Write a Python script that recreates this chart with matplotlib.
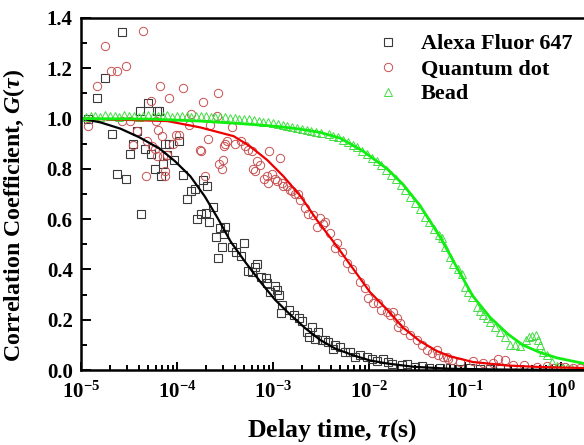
import numpy as np
import matplotlib.pyplot as plt
from matplotlib.ticker import MultipleLocator, LogLocator, NullFormatter

plt.rcParams['font.family'] = ['Liberation Serif', 'DejaVu Serif']
plt.rcParams['font.weight'] = 'bold'
plt.rcParams['mathtext.fontset'] = 'custom'
plt.rcParams['mathtext.rm'] = 'Liberation Serif:bold'
plt.rcParams['mathtext.it'] = 'Liberation Serif:italic:bold'
plt.rcParams['mathtext.bf'] = 'Liberation Serif:bold'

# ---- data (log10 of delay time, correlation coefficient) ----
alexa_logt = [-4.93, -4.83, -4.75, -4.68, -4.63, -4.57, -4.53, -4.49, -4.46, -4.42,
              -4.39, -4.37, -4.33, -4.30, -4.27, -4.23, -4.21, -4.19, -4.17, -4.15,
              -4.13, -4.10, -4.08, -4.03, -3.98, -3.94, -3.90, -3.85, -3.81, -3.79,
              -3.75, -3.73, -3.70, -3.69, -3.67, -3.63, -3.59, -3.57, -3.55, -3.53,
              -3.51, -3.50, -3.43, -3.39, -3.33, -3.30, -3.26, -3.22, -3.19, -3.17,
              -3.13, -3.07, -3.06, -3.03, -2.98, -2.96, -2.94, -2.92, -2.91, -2.83,
              -2.78, -2.73, -2.70, -2.65, -2.63, -2.59, -2.56, -2.53, -2.49, -2.46,
              -2.43, -2.38, -2.35, -2.30, -2.25, -2.20, -2.15, -2.09, -2.02, -1.97,
              -1.92, -1.85, -1.80, -1.76, -1.66, -1.60, -1.52, -1.45, -1.37, -1.26,
              -1.16, -1.05, -0.95, -0.84, -0.74, -0.64]
alexa_g = [1.00, 1.08, 1.16, 0.94, 0.78, 1.345, 0.76, 0.86, 0.90, 0.95,
           1.03, 0.62, 0.88, 1.06, 0.86, 0.80, 1.03, 1.03, 0.77, 0.82,
           0.90, 0.855, 0.90, 0.835, 0.91, 0.775, 0.68, 0.71, 0.72, 0.60,
           0.62, 0.755, 0.625, 0.73, 0.59, 0.65, 0.53, 0.445, 0.565, 0.49,
           0.54, 0.57, 0.49, 0.47, 0.455, 0.505, 0.395, 0.39, 0.41, 0.42,
           0.37, 0.365, 0.345, 0.31, 0.335, 0.32, 0.30, 0.225, 0.26, 0.24,
           0.22, 0.205, 0.195, 0.15, 0.13, 0.17, 0.125, 0.15, 0.12, 0.12,
           0.11, 0.085, 0.10, 0.09, 0.07, 0.07, 0.05, 0.06, 0.05, 0.045,
           0.035, 0.045, 0.03, 0.025, 0.02, 0.025, 0.012, 0.015, 0.01, 0.008,
           0.01, 0.005, 0.008, 0.004, 0.006, 0.003]

qdot_logt = [-4.93, -4.83, -4.75, -4.69, -4.63, -4.57, -4.53, -4.49, -4.46, -4.42,
             -4.35, -4.32, -4.31, -4.27, -4.26, -4.23, -4.22, -4.21, -4.20, -4.18,
             -4.16, -4.15, -4.13, -4.12, -4.10, -4.08, -4.04, -4.01, -3.98, -3.94,
             -3.87, -3.85, -3.76, -3.75, -3.73, -3.71, -3.68, -3.66, -3.58, -3.57,
             -3.56, -3.53, -3.52, -3.51, -3.50, -3.48, -3.43, -3.40, -3.33, -3.29,
             -3.26, -3.22, -3.21, -3.19, -3.17, -3.14, -3.09, -3.06, -3.05, -3.04,
             -3.01, -2.98, -2.96, -2.93, -2.91, -2.90, -2.85, -2.82, -2.80, -2.77,
             -2.74, -2.72, -2.67, -2.64, -2.58, -2.51, -2.54, -2.48, -2.46, -2.41,
             -2.35, -2.33, -2.28, -2.23, -2.18, -2.09, -2.04, -2.01, -1.96, -1.91,
             -1.87, -1.81, -1.78, -1.75, -1.71, -1.70, -1.68, -1.63, -1.57, -1.50,
             -1.45, -1.40, -1.34, -1.29, -1.28, -1.23, -1.19, -1.18, -1.13, -1.05,
             -0.92, -0.81, -0.71, -0.66, -0.58, -0.50, -0.38, -0.25, -0.15, -0.01,
             0.13, 0.04, -0.08, 0.20]
qdot_g = [0.97, 1.13, 1.29, 1.19, 1.19, 0.99, 1.21, 0.99, 0.895, 0.95,
          1.35, 0.77, 0.91, 1.07, 0.89, 0.88, 0.99, 0.85, 0.955, 1.13,
          0.93, 0.85, 0.79, 0.77, 0.855, 1.08, 0.90, 0.935, 0.935, 1.12,
          0.975, 1.02, 0.875, 0.87, 1.065, 0.77, 0.92, 0.975, 1.01, 1.10,
          0.82, 0.80, 0.835, 0.89, 0.90, 0.91, 0.965, 0.90, 0.91, 0.89,
          0.875, 0.87, 0.80, 0.79, 0.83, 0.815, 0.76, 0.77, 0.745, 0.87,
          0.78, 0.76, 0.75, 0.845, 0.745, 0.73, 0.73, 0.715, 0.71, 0.70,
          0.70, 0.675, 0.645, 0.62, 0.615, 0.605, 0.57, 0.58, 0.59, 0.545,
          0.485, 0.505, 0.47, 0.425, 0.40, 0.35, 0.325, 0.285, 0.265, 0.265,
          0.24, 0.23, 0.22, 0.23, 0.205, 0.17, 0.185, 0.16, 0.14, 0.12,
          0.10, 0.08, 0.068, 0.08, 0.06, 0.05, 0.05, 0.045, 0.04, 0.03,
          0.035, 0.028, 0.028, 0.045, 0.04, 0.02, 0.02, 0.012, 0.015, 0.012,
          0.01, 0.012, 0.008, 0.01]

bead_logt = [-4.95, -4.90, -4.85, -4.80, -4.75, -4.70, -4.65, -4.60, -4.55, -4.50,
             -4.45, -4.40, -4.35, -4.30, -4.25, -4.20, -4.15, -4.10, -4.05, -4.00,
             -3.95, -3.90, -3.85, -3.80, -3.75, -3.70, -3.65, -3.60, -3.55, -3.50,
             -3.45, -3.40, -3.35, -3.30, -3.25, -3.20, -3.15, -3.10, -3.05, -3.00,
             -2.95, -2.90, -2.85, -2.80, -2.75, -2.70, -2.65, -2.60, -2.55, -2.50,
             -2.42, -2.37, -2.32, -2.27, -2.22, -2.17, -2.12, -2.07, -2.02, -1.97,
             -1.92, -1.87, -1.82, -1.77, -1.72, -1.67, -1.62, -1.57, -1.52, -1.47,
             -1.42, -1.37, -1.32, -1.27, -1.24, -1.21, -1.16, -1.125, -1.07, -1.03,
             -1.00, -0.97, -0.93, -0.875, -0.84, -0.81, -0.77, -0.74, -0.69, -0.635,
             -0.58, -0.53, -0.48, -0.43, -0.365, -0.33, -0.30, -0.26, -0.24, -0.22,
             -0.19, -0.145, -0.09, -0.04, 0.01, 0.06, 0.11]
bead_g = [1.005, 1.010, 1.012, 1.008, 1.015, 1.010, 1.012, 1.006, 1.014, 1.010,
          1.012, 1.008, 1.011, 1.015, 1.009, 1.012, 1.010, 1.013, 1.008, 1.011,
          1.010, 1.012, 1.007, 1.010, 1.009, 1.011, 1.006, 1.008, 1.005, 1.007,
          1.004, 1.003, 1.000, 0.998, 0.997, 0.993, 0.990, 0.988, 0.985, 0.982,
          0.978, 0.975, 0.970, 0.966, 0.962, 0.958, 0.955, 0.950, 0.946, 0.942,
          0.940, 0.932, 0.925, 0.915, 0.905, 0.895, 0.885, 0.870, 0.860, 0.845,
          0.830, 0.815, 0.795, 0.775, 0.760, 0.735, 0.715, 0.690, 0.665, 0.640,
          0.610, 0.590, 0.560, 0.535, 0.525, 0.49, 0.45, 0.42, 0.40, 0.38,
          0.33, 0.31, 0.29, 0.25, 0.235, 0.22, 0.205, 0.19, 0.17, 0.15,
          0.13, 0.10, 0.10, 0.095, 0.12, 0.13, 0.135, 0.14, 0.12, 0.10,
          0.07, 0.06, 0.03, 0.015, 0.01, 0.01, 0.005]

# fitted curves
alexa_fit_logt = [-5.0, -4.80, -4.59, -4.39, -4.18, -4.02, -3.86, -3.71, -3.57, -3.44,
                  -3.29, -3.13, -2.98, -2.82, -2.66, -2.51, -2.35, -2.16, -1.99, -1.81,
                  -1.54, -1.16, -0.64, 0.24]
alexa_fit_g = [1.0, 0.985, 0.96, 0.925, 0.88, 0.83, 0.77, 0.69, 0.60, 0.51,
               0.43, 0.35, 0.28, 0.22, 0.165, 0.12, 0.085, 0.058, 0.038, 0.026,
               0.013, 0.005, 0.002, 0.0]

qdot_fit_logt = [-5.0, -4.10, -3.76, -3.41, -3.24, -3.06, -2.89, -2.71, -2.54, -2.35,
                 -2.16, -1.99, -1.81, -1.65, -1.47, -1.29, -1.16, -0.92, -0.56, -0.22, 0.24]
qdot_fit_g = [1.0, 0.99, 0.965, 0.93, 0.89, 0.835, 0.77, 0.69, 0.595, 0.50,
              0.40, 0.31, 0.24, 0.17, 0.115, 0.075, 0.055, 0.032, 0.018, 0.012, 0.008]

bead_fit_logt = [-5.0, -4.28, -3.76, -3.34, -2.93, -2.72, -2.51, -2.30, -2.06, -1.81,
                 -1.65, -1.47, -1.26, -1.08, -0.92, -0.74, -0.56, -0.40, -0.22, -0.04, 0.24]
bead_fit_g = [1.0, 0.998, 0.99, 0.98, 0.968, 0.958, 0.945, 0.922, 0.87, 0.80,
              0.74, 0.655, 0.53, 0.405, 0.295, 0.21, 0.145, 0.10, 0.07, 0.048, 0.026]

fig = plt.figure(figsize=(5.84, 4.45), dpi=100)
ax = fig.add_axes([0.1387, 0.1685, 0.8613, 0.7911])

ax.plot(10 ** np.array(alexa_logt), alexa_g, linestyle='none', marker='s', ms=5.5,
        mfc='none', mec='#3a3a3a', mew=0.8, label='Alexa Fluor 647')
ax.plot(10 ** np.array(qdot_logt), qdot_g, linestyle='none', marker='o', ms=6,
        mfc='none', mec='#c85050', mew=0.7, label='Quantum dot')
ax.plot(10 ** np.array(bead_logt), bead_g, linestyle='none', marker='^', ms=5.5,
        mfc='none', mec='#44dd44', mew=0.7, label='Bead')

ax.plot(10 ** np.array(alexa_fit_logt), alexa_fit_g, color='black', lw=1.6)
ax.plot(10 ** np.array(qdot_fit_logt), qdot_fit_g, color='#ee0000', lw=1.6)
ax.plot(10 ** np.array(bead_fit_logt), bead_fit_g, color='#11ee11', lw=2.0)

ax.set_xscale('log')
ax.set_xlim(1e-5, 10 ** 0.24)
ax.set_ylim(0, 1.4)
ax.yaxis.set_major_locator(MultipleLocator(0.2))
ax.yaxis.set_minor_locator(MultipleLocator(0.1))
ax.xaxis.set_major_locator(LogLocator(base=10, numticks=10))
ax.xaxis.set_minor_locator(LogLocator(base=10, subs=np.arange(2, 10), numticks=10))
ax.xaxis.set_minor_formatter(NullFormatter())

ax.spines['right'].set_visible(False)
for s in ['left', 'bottom', 'top']:
    ax.spines[s].set_linewidth(1.8)
ax.tick_params(axis='both', which='both', direction='in', top=False, right=False, width=1.4)
ax.tick_params(axis='y', which='major', length=7, labelsize=15, pad=6)
ax.tick_params(axis='y', which='minor', length=4)
ax.tick_params(axis='x', which='major', length=6, labelsize=15, pad=8)
ax.tick_params(axis='x', which='minor', length=3.5)
for lbl in ax.get_xticklabels() + ax.get_yticklabels():
    lbl.set_fontweight('bold')

ax.set_xlabel(r'Delay time, $\tau$(s)', fontsize=18.5, fontweight='bold', labelpad=11)
ax.set_ylabel(r'Correlation Coefficient, $G(\tau)$', fontsize=17.2, fontweight='bold')
ax.yaxis.set_label_coords(-0.108, 0.44)

leg = ax.legend(loc='upper left', bbox_to_anchor=(0.57, 0.98), frameon=False,
                prop={'size': 16, 'weight': 'bold'}, handlelength=1.0,
                handletextpad=1.0, labelspacing=0.2, borderaxespad=0)

fig.savefig('out.png', dpi=100)
